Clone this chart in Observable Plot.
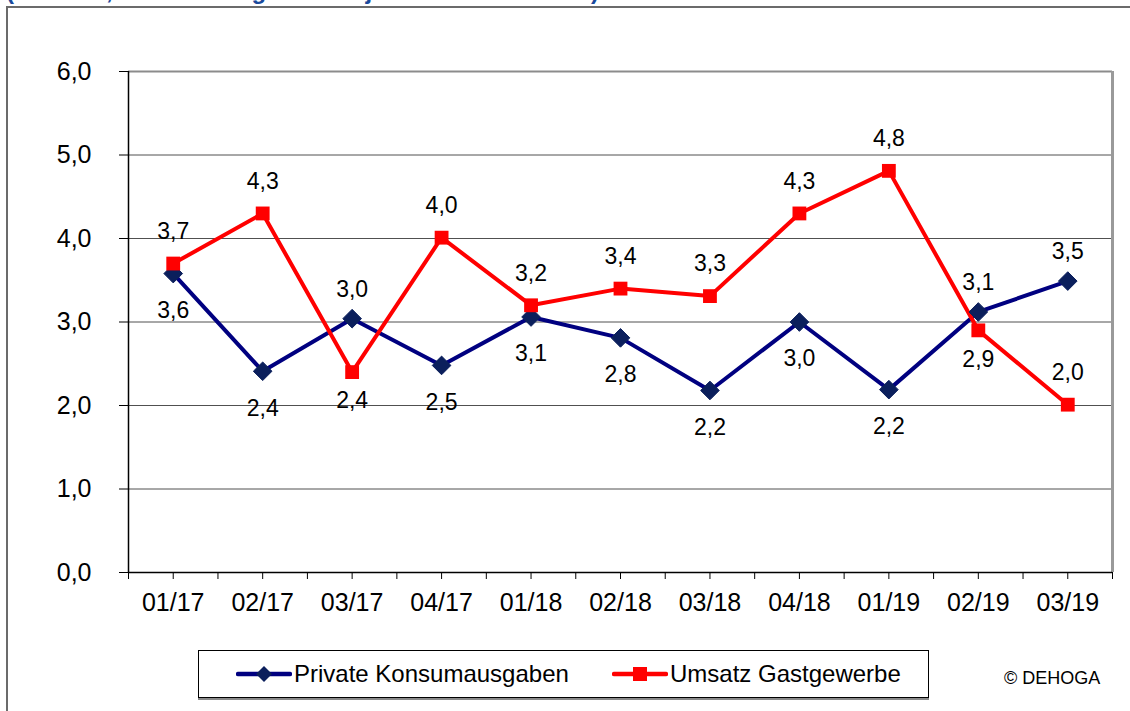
<!DOCTYPE html>
<html>
<head>
<meta charset="utf-8">
<script src="https://cdn.jsdelivr.net/npm/d3@7"></script>
<script src="https://cdn.jsdelivr.net/npm/@observablehq/plot@0.6"></script>
<style>
  html, body { margin: 0; padding: 0; background: #fff; overflow: hidden; }
  #wrap { position: relative; width: 1130px; height: 711px; overflow: hidden; font-family: "Liberation Sans", Arial, sans-serif; }
  #title { position: absolute; left: 6px; top: -21px; font-size: 24px; line-height: 24px; font-weight: bold; color: #1a4a9c; white-space: nowrap; }
  #frame { position: absolute; left: 6px; top: 6px; width: 1300px; height: 900px; border-top: 2px solid #6b6b6b; border-left: 2px solid #6b6b6b; }
  #chart { position: absolute; left: 0; top: 0; }
  #legend { position: absolute; left: 198px; top: 650px; width: 729px; height: 46px; border: 1px solid #000; box-shadow: 0 2px 0 #8a8a8a; background: #fff; }
  .item { position: absolute; top: 0; height: 46px; display: flex; align-items: center; font-size: 24px; color: #000; }
  .item svg { display: block; margin-right: 2px; }
  #copy { position: absolute; left: 1004px; top: 668px; font-size: 18px; color: #000; }
</style>
</head>
<body>
<div id="wrap">
  <div id="frame"></div>
  <div id="title">(nominal, Veränderung zum Vorjahreszeitraum in %)</div>
  <div id="chart"></div>
  <div id="legend"></div>
  <div id="copy">© DEHOGA</div>
</div>
<script>
// ---- Data ----
const categories = ["01/17", "02/17", "03/17", "04/17", "01/18", "02/18", "03/18", "04/18", "01/19", "02/19", "03/19"];
const privateKonsum = [3.58, 2.41, 3.04, 2.48, 3.06, 2.81, 2.18, 3.00, 2.19, 3.12, 3.49];
const umsatzGastgewerbe = [3.70, 4.30, 2.40, 4.01, 3.20, 3.40, 3.31, 4.30, 4.81, 2.90, 2.01];
const yTicks = [0, 1, 2, 3, 4, 5, 6];
const seriesNames = ["Private Konsumausgaben", "Umsatz Gastgewerbe"];
// label placement relative to point
const privateLabelSide = ["below", "below", "above", "below", "below", "below", "below", "below", "below", "above", "above"];
const umsatzLabelSide = ["above", "above", "below", "above", "above", "above", "above", "above", "above", "below", "above"];

// ---- Styles ----
const blueLine = "#000080";
const blueMarker = "#0b1f5c";
const red = "#ff0000";
const font = "'Liberation Sans', Arial, sans-serif";
const fmt = v => v.toFixed(1).replace(".", ",");

const privateRows = categories.map((c, i) => ({ i, cat: c, value: privateKonsum[i], side: privateLabelSide[i] }));
const umsatzRows = categories.map((c, i) => ({ i, cat: c, value: umsatzGastgewerbe[i], side: umsatzLabelSide[i] }));

const n = categories.length;
const halfTicks = d3.range(0, 2 * n + 1).map(k => -0.5 + k * 0.5);
const catTicks = d3.range(n);

const chart = Plot.plot({
  width: 1130,
  height: 640,
  marginLeft: 128,
  marginRight: 18,
  marginTop: 71,
  marginBottom: 68,
  style: { fontFamily: font, fontSize: "25px", color: "#000", background: "transparent", overflow: "visible" },
  x: { type: "linear", domain: [-0.5, n - 0.5], axis: null },
  y: { domain: [0, 6], axis: null },
  marks: [
    Plot.ruleY(yTicks.filter(t => t > 0 && t < 6), { stroke: "#505050", strokeWidth: 1 }),
    Plot.ruleY([6], { stroke: "#8c8c8c", strokeWidth: 2 }),
    Plot.ruleX([n - 0.5], { stroke: "#9a9a9a", strokeWidth: 3 }),
    Plot.axisY({ ticks: yTicks, tickSize: 9, tickPadding: 28, tickFormat: fmt, label: null, fontSize: 25 }),
    Plot.axisX({ ticks: halfTicks, tickSize: 7, tickFormat: () => "", label: null }),
    Plot.axisX({ ticks: catTicks, tickSize: 0, tickPadding: 21, tickFormat: i => categories[i], label: null, fontSize: 25 }),
    Plot.ruleX([-0.5], { stroke: "#000", strokeWidth: 1.5 }),
    Plot.ruleY([0], { stroke: "#000", strokeWidth: 1.5 }),
    Plot.line(privateRows, { x: "i", y: "value", stroke: blueLine, strokeWidth: 4 }),
    Plot.line(umsatzRows, { x: "i", y: "value", stroke: red, strokeWidth: 4 }),
    Plot.dot(privateRows, { x: "i", y: "value", symbol: "diamond2", r: 8.4, fill: blueMarker, stroke: blueMarker, strokeWidth: 1 }),
    Plot.dot(umsatzRows, { x: "i", y: "value", symbol: "square", r: 7.8, fill: red, stroke: "none" }),
    Plot.text(privateRows, { filter: d => d.side === "below", x: "i", y: "value", text: d => fmt(d.value), dy: 37, fontSize: 23, fill: "#000" }),
    Plot.text(privateRows, { filter: d => d.side === "above", x: "i", y: "value", text: d => fmt(d.value), dy: -29, fontSize: 23, fill: "#000" }),
    Plot.text(umsatzRows, { filter: d => d.side === "above", x: "i", y: "value", text: d => fmt(d.value), dy: -32, fontSize: 23, fill: "#000" }),
    Plot.text(umsatzRows, { filter: d => d.side === "below", x: "i", y: "value", text: d => fmt(d.value), dy: 29, fontSize: 23, fill: "#000" })
  ]
});
document.getElementById("chart").appendChild(chart);

// ---- Legend ----
const legend = document.getElementById("legend");
function swatch(color, markerColor, shape) {
  const ns = "http://www.w3.org/2000/svg";
  const svg = document.createElementNS(ns, "svg");
  svg.setAttribute("width", 56); svg.setAttribute("height", 20);
  const line = document.createElementNS(ns, "line");
  line.setAttribute("x1", 2); line.setAttribute("x2", 54); line.setAttribute("y1", 10); line.setAttribute("y2", 10);
  line.setAttribute("stroke", color); line.setAttribute("stroke-width", 4.5); line.setAttribute("stroke-linecap", "round");
  svg.appendChild(line);
  let m;
  if (shape === "diamond") {
    m = document.createElementNS(ns, "path");
    m.setAttribute("d", "M28,2 L36,10 L28,18 L20,10 Z");
  } else {
    m = document.createElementNS(ns, "rect");
    m.setAttribute("x", 21); m.setAttribute("y", 3); m.setAttribute("width", 14); m.setAttribute("height", 14);
  }
  m.setAttribute("fill", markerColor);
  svg.appendChild(m);
  return svg;
}
const items = [
  { name: seriesNames[0], color: blueLine, marker: blueMarker, shape: "diamond", left: 37 },
  { name: seriesNames[1], color: red, marker: red, shape: "square", left: 413 }
];
for (const it of items) {
  const div = document.createElement("div");
  div.className = "item";
  div.style.left = it.left + "px";
  div.appendChild(swatch(it.color, it.marker, it.shape));
  const span = document.createElement("span");
  span.textContent = it.name;
  div.appendChild(span);
  legend.appendChild(div);
}
</script>
</body>
</html>
